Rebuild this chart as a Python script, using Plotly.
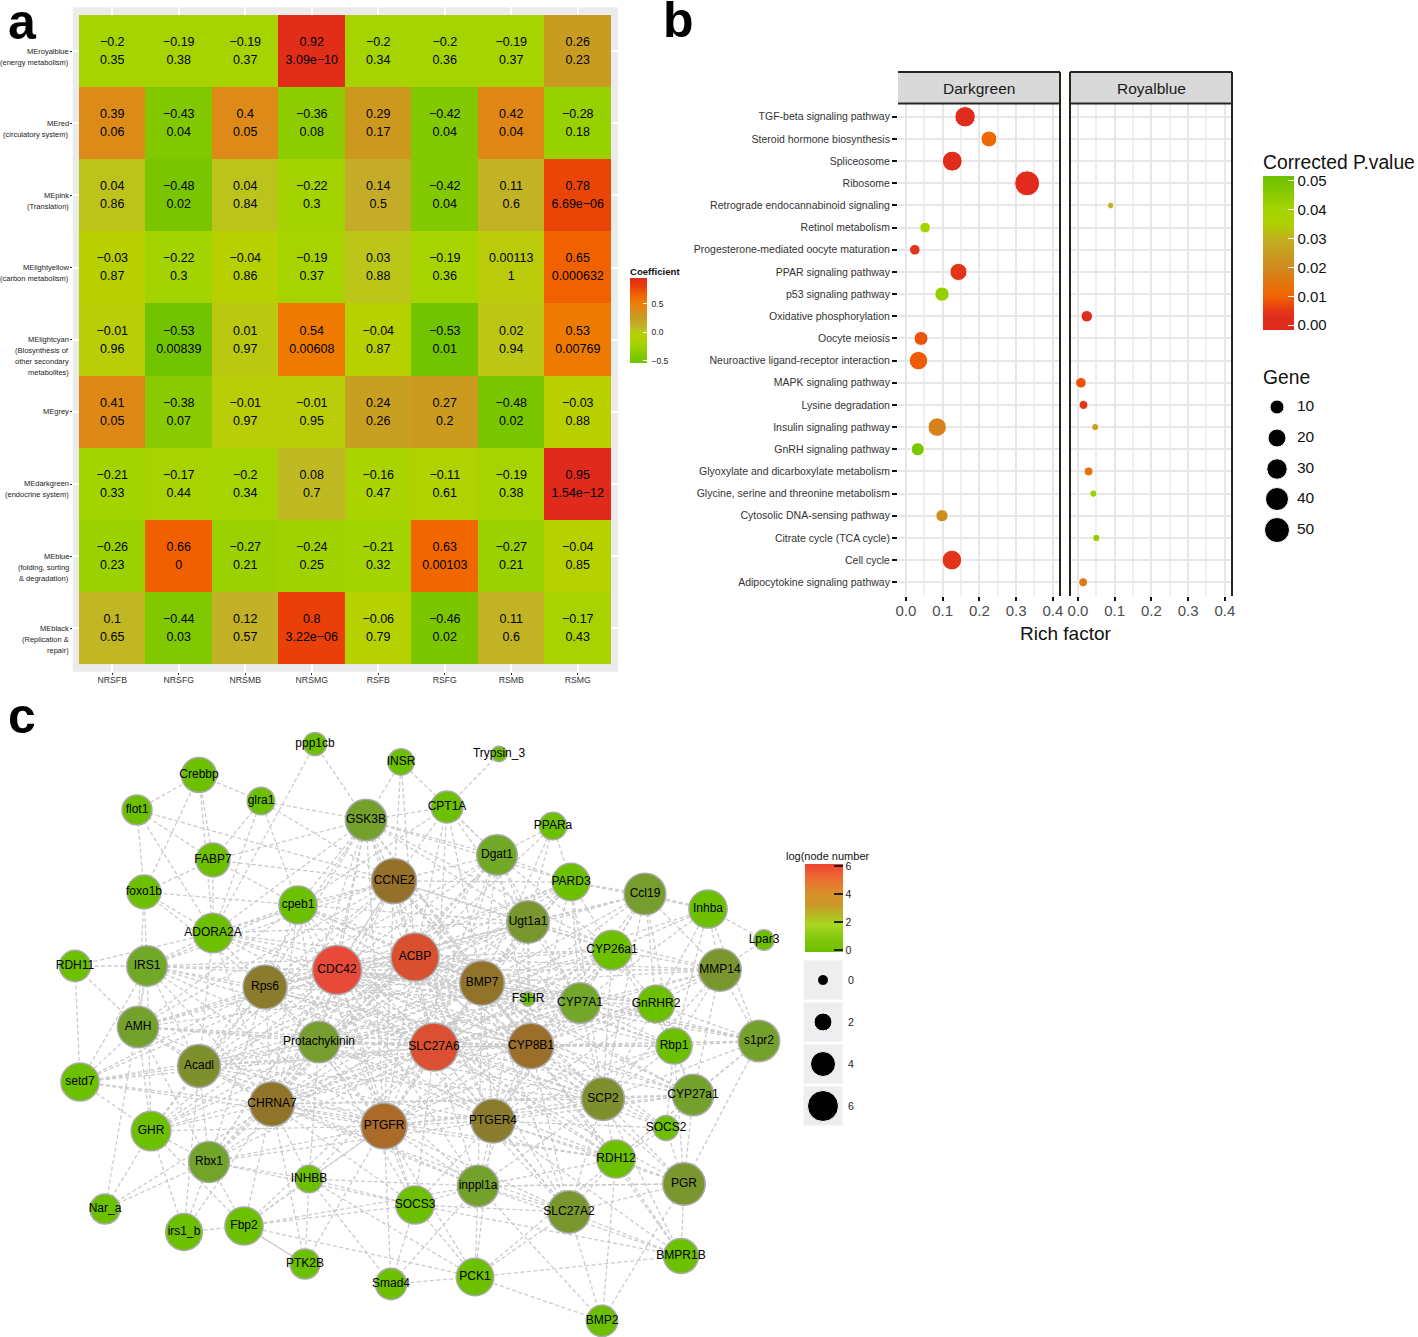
import numpy as np
import plotly.graph_objects as go

W, H = 1418, 1337
FONT = "Liberation Sans"

# ----- panel a: module / trait correlations
modules = ["MEroyalblue\n(energy metabolism)", "MEred\n(circulatory system)", "MEpink\n(Translation)",
           "MElightyellow\n(carbon metabolism)",
           "MElightcyan\n(Blosynthesis of\nother secondary\nmetabolites)", "MEgrey",
           "MEdarkgreen\n(endocrine system)", "MEblue\n(folding, sorting\n& degradation)",
           "MEblack\n(Replication &\nrepair)"]
traits = ["NRSFB", "NRSFG", "NRSMB", "NRSMG", "RSFB", "RSFG", "RSMB", "RSMG"]
coef = [[-0.2, -0.19, -0.19, 0.92, -0.2, -0.2, -0.19, 0.26],
        [0.39, -0.43, 0.4, -0.36, 0.29, -0.42, 0.42, -0.28],
        [0.04, -0.48, 0.04, -0.22, 0.14, -0.42, 0.11, 0.78],
        [-0.03, -0.22, -0.04, -0.19, 0.03, -0.19, 0.00113, 0.65],
        [-0.01, -0.53, 0.01, 0.54, -0.04, -0.53, 0.02, 0.53],
        [0.41, -0.38, -0.01, -0.01, 0.24, 0.27, -0.48, -0.03],
        [-0.21, -0.17, -0.2, 0.08, -0.16, -0.11, -0.19, 0.95],
        [-0.26, 0.66, -0.27, -0.24, -0.21, 0.63, -0.27, -0.04],
        [0.1, -0.44, 0.12, 0.8, -0.06, -0.46, 0.11, -0.17]]
pvals = [["0.35", "0.38", "0.37", "3.09e−10", "0.34", "0.36", "0.37", "0.23"],
         ["0.06", "0.04", "0.05", "0.08", "0.17", "0.04", "0.04", "0.18"],
         ["0.86", "0.02", "0.84", "0.3", "0.5", "0.04", "0.6", "6.69e−06"],
         ["0.87", "0.3", "0.86", "0.37", "0.88", "0.36", "1", "0.000632"],
         ["0.96", "0.00839", "0.97", "0.00608", "0.87", "0.01", "0.94", "0.00769"],
         ["0.05", "0.07", "0.97", "0.95", "0.26", "0.2", "0.02", "0.88"],
         ["0.33", "0.44", "0.34", "0.7", "0.47", "0.61", "0.38", "1.54e−12"],
         ["0.23", "0", "0.21", "0.25", "0.32", "0.00103", "0.21", "0.85"],
         ["0.65", "0.03", "0.57", "3.22e−06", "0.79", "0.02", "0.6", "0.43"]]

# ----- panel b: enrichment dots
pathways = ["TGF-beta signaling pathway", "Steroid hormone biosynthesis", "Spliceosome", "Ribosome",
            "Retrograde endocannabinoid signaling", "Retinol metabolism",
            "Progesterone-mediated oocyte maturation", "PPAR signaling pathway", "p53 signaling pathway",
            "Oxidative phosphorylation", "Oocyte meiosis", "Neuroactive ligand-receptor interaction",
            "MAPK signaling pathway", "Lysine degradation", "Insulin signaling pathway",
            "GnRH signaling pathway", "Glyoxylate and dicarboxylate metabolism",
            "Glycine, serine and threonine metabolism", "Cytosolic DNA-sensing pathway",
            "Citrate cycle (TCA cycle)", "Cell cycle", "Adipocytokine signaling pathway"]
dark_path = ["TGF-beta signaling pathway", "Steroid hormone biosynthesis", "Spliceosome", "Ribosome",
             "Retinol metabolism", "Progesterone-mediated oocyte maturation", "PPAR signaling pathway",
             "p53 signaling pathway", "Oocyte meiosis", "Neuroactive ligand-receptor interaction",
             "Insulin signaling pathway", "GnRH signaling pathway", "Cytosolic DNA-sensing pathway",
             "Cell cycle"]
dark_rich = [0.161, 0.226, 0.126, 0.330, 0.052, 0.024, 0.143, 0.098, 0.041, 0.034, 0.085, 0.032, 0.098, 0.125]
dark_gene = [30, 15, 28, 53, 6, 6, 18, 11, 10, 22, 22, 9, 8, 27]
dark_p = [0.002, 0.011, 0.003, 0.001, 0.04, 0.004, 0.004, 0.043, 0.008, 0.009, 0.018, 0.048, 0.021, 0.004]
royal_path = ["Retrograde endocannabinoid signaling", "Oxidative phosphorylation", "MAPK signaling pathway",
              "Lysine degradation", "Insulin signaling pathway", "Glyoxylate and dicarboxylate metabolism",
              "Glycine, serine and threonine metabolism", "Citrate cycle (TCA cycle)",
              "Adipocytokine signaling pathway"]
royal_rich = [0.089, 0.024, 0.008, 0.015, 0.047, 0.029, 0.042, 0.05, 0.014]
royal_gene = [1, 7, 6, 4, 2, 4, 2, 2, 4]
royal_p = [0.03, 0.003, 0.008, 0.004, 0.026, 0.014, 0.042, 0.044, 0.016]
gene_legend = [10, 20, 30, 40, 50]
rich_ticks = [0.0, 0.1, 0.2, 0.3, 0.4]

# ----- panel c: network, node layout
node_name = ["ppp1cb", "INSR", "Crebbp", "flot1", "glra1", "GSK3B", "CPT1A", "FABP7", "foxo1b", "cpeb1",
             "CCNE2", "ADORA2A", "RDH11", "IRS1", "Rps6", "CDC42", "ACBP", "AMH", "Trypsin_3", "PPARa",
             "Dgat1", "PARD3", "Ccl19", "Inhba", "Ugt1a1", "Lpar3", "CYP26a1", "MMP14", "BMP7", "FSHR",
             "CYP7A1", "GnRHR2", "Protachykinin", "SLC27A6", "Acadl", "setd7", "CHRNA7", "PTGFR", "GHR",
             "Rbx1", "INHBB", "Nar_a", "SOCS3", "irs1_b", "Fbp2", "PTK2B", "Smad4", "CYP8B1", "Rbp1",
             "s1pr2", "SCP2", "CYP27a1", "PTGER4", "SOCS2", "RDH12", "PGR", "inppl1a", "SLC27A2", "BMPR1B",
             "PCK1", "BMP2"]
node_x = [315, 401, 199, 137, 261, 366, 447, 213, 144, 298,
          394, 213, 75, 147, 265, 337, 415, 138, 499, 553,
          497, 571, 645, 708, 528, 764, 612, 720, 482, 528,
          580, 656, 319, 434, 199, 80, 272, 384, 151,
          209, 309, 105, 415, 184, 244, 305, 391, 531, 674,
          759, 603, 693, 493, 666, 616, 684, 478, 569, 681,
          475, 602]
node_y = [744, 762, 775, 810, 801, 820, 807, 860, 892, 905,
          881, 933, 966, 966, 987, 970, 957, 1027, 754, 826,
          855, 882, 894, 909, 922, 940, 950, 970, 983, 999,
          1003, 1004, 1042, 1047, 1066, 1082, 1104, 1126, 1131,
          1162, 1179, 1209, 1205, 1232, 1226, 1264, 1284, 1046, 1046,
          1041, 1099, 1095, 1121, 1128, 1159, 1184, 1186, 1212, 1256,
          1277, 1321]
node_value = [0.47, 0.6, 0.95, 0.75, 0.65, 2.0, 0.83, 0.9, 0.9, 1.4,
              3.0, 1.6, 0.8, 1.8, 2.7, 5.4, 4.8, 2.0, 0.15, 0.65,
              1.8, 1.3, 2.1, 1.4, 2.3, 0.35, 1.6, 2.3, 2.9, 0.1,
              1.85, 1.3, 2.1, 4.9, 2.4, 1.4, 2.9, 3.6, 1.6,
              1.9, 0.65, 0.75, 1.4, 1.2, 1.4, 0.75, 0.8, 3.2, 1.1,
              2.0, 2.4, 2.0, 2.7, 0.55, 1.4, 2.3, 2.0, 2.3, 0.95,
              1.3, 0.8]
node_edges = {
    "ppp1cb": "GSK3B ADORA2A",
    "INSR": "GSK3B CCNE2 ACBP Dgat1",
    "Crebbp": "flot1 glra1 FABP7 foxo1b ADORA2A",
    "flot1": "FABP7 ADORA2A CCNE2 foxo1b",
    "glra1": "FABP7 ADORA2A cpeb1 CCNE2 GSK3B",
    "FABP7": "ADORA2A CCNE2 GSK3B cpeb1 foxo1b",
    "foxo1b": "IRS1 ADORA2A cpeb1 AMH Rps6",
    "RDH11": "IRS1 AMH ADORA2A setd7",
    "Trypsin_3": "CPT1A",
    "CPT1A": "GSK3B Dgat1 CCNE2 ACBP Ugt1a1 BMP7 SLC27A6 cpeb1",
    "PPARa": "Dgat1 Ugt1a1 PARD3 BMP7 ACBP",
    "Lpar3": "Inhba MMP14",
    "Inhba": "Ccl19 MMP14 CYP26a1 GnRHR2 CYP7A1 PARD3 BMP7 s1pr2 Rbp1",
    "Ccl19": "PARD3 CYP26a1 Ugt1a1 CYP7A1 ACBP BMP7 GnRHR2 Rbp1 MMP14 SLC27A6 CDC42 CYP8B1 SCP2",
    "setd7": "AMH Acadl GHR IRS1 Rps6 CHRNA7 Protachykinin CDC42 SLC27A6 PTGFR",
    "Nar_a": "GHR Rbx1 IRS1 CHRNA7",
    "irs1_b": "GHR Rbx1 Fbp2 CHRNA7 Acadl",
    "Fbp2": "Rbx1 GHR INHBB SOCS3 PTK2B inppl1a PCK1 CHRNA7 SLC27A6 PTGFR",
    "PTK2B": "INHBB PTGFR CHRNA7 Fbp2",
    "Smad4": "SOCS3 PCK1 INHBB PTGFR inppl1a",
    "PCK1": "inppl1a SLC27A2 BMPR1B SOCS3 PTGFR INHBB PTGER4 RDH12",
    "BMP2": "SLC27A2 PGR inppl1a RDH12 PCK1",
    "BMPR1B": "PGR RDH12 SLC27A2 PTGER4 SOCS3 CYP8B1 inppl1a SCP2",
    "PGR": "SOCS2 CYP27a1 s1pr2 RDH12 SLC27A2 inppl1a SCP2 CYP8B1 SLC27A6 PTGER4 Rbp1",
    "s1pr2": "Rbp1 CYP27a1 MMP14 RDH12 GnRHR2 SCP2 CYP8B1 CYP7A1 SLC27A6 BMP7 CDC42 ACBP",
    "MMP14": "GnRHR2 CYP26a1 Rbp1 CYP27a1 CYP7A1 BMP7 CYP8B1 SCP2 ACBP SLC27A6 CDC42 Ugt1a1",
    "GHR": "Rbx1 AMH Acadl IRS1 CHRNA7 Rps6 CDC42 Protachykinin SLC27A6 PTGFR ACBP BMP7",
    "INHBB": "Rbx1 CHRNA7 PTGFR SOCS3 Protachykinin SLC27A6 inppl1a",
    "SOCS2": "RDH12 CYP27a1 SCP2 CYP8B1 Rbp1 SLC27A6 PTGER4 BMP7",
    "SOCS3": "Rbx1 PTGFR inppl1a SLC27A2 SLC27A6 PTGER4 CHRNA7 Protachykinin CDC42",
    "inppl1a": "SLC27A2 RDH12 PGR PTGFR PTGER4 SLC27A6 CHRNA7 SCP2 CYP8B1 CDC42 Acadl Protachykinin BMP7",
    "SLC27A2": "RDH12 PTGER4 SCP2 CYP8B1 PTGFR SLC27A6 CDC42 BMP7 ACBP CHRNA7",
    "RDH12": "SCP2 CYP27a1 PTGER4 CYP8B1 SLC27A6 PTGFR BMP7 CDC42 ACBP CHRNA7 Protachykinin",
    "Rbx1": "CHRNA7 Acadl AMH Rps6 PTGFR CDC42 Protachykinin SLC27A6 ACBP BMP7 CCNE2 PTGER4",
    "AMH": "IRS1 Acadl Rps6 CHRNA7 Protachykinin CDC42 SLC27A6 ACBP CCNE2 cpeb1 BMP7 CYP8B1 PTGFR",
    "IRS1": "ADORA2A Rps6 cpeb1 CDC42 Acadl Protachykinin ACBP SLC27A6 CCNE2 BMP7 CYP8B1 PTGFR CHRNA7",
    "ADORA2A": "cpeb1 Rps6 CDC42 CCNE2 GSK3B ACBP Protachykinin SLC27A6 BMP7 CYP8B1 Acadl CHRNA7 Ugt1a1",
    "cpeb1": "GSK3B CCNE2 Rps6 CDC42 ACBP Protachykinin BMP7 Ugt1a1 SLC27A6 CYP8B1 CHRNA7 PTGFR CYP7A1",
    "GSK3B": "CCNE2 CDC42 ACBP Dgat1 Ugt1a1 PARD3 BMP7 Rps6 SLC27A6 Protachykinin CYP26a1 CYP8B1 CHRNA7 Acadl PTGFR",
    "Dgat1": "CCNE2 PARD3 Ugt1a1 ACBP CDC42 BMP7 SLC27A6 CYP7A1 CYP26a1 Rps6 CYP8B1 Protachykinin CHRNA7 PTGFR",
    "PARD3": "Ugt1a1 CYP26a1 ACBP BMP7 CCNE2 CDC42 CYP7A1 CYP8B1 SLC27A6 Rps6 Protachykinin SCP2",
    "Ugt1a1": "CCNE2 ACBP CDC42 BMP7 SLC27A6 CYP26a1 CYP7A1 FSHR CYP8B1 Protachykinin PTGER4 Rps6 CHRNA7 PTGFR Acadl",
    "CYP26a1": "ACBP BMP7 CYP7A1 GnRHR2 CYP8B1 SLC27A6 Rbp1 SCP2 CDC42 FSHR PTGER4 CCNE2 CHRNA7 PTGFR Protachykinin",
    "CYP7A1": "BMP7 GnRHR2 CYP8B1 SLC27A6 Rbp1 ACBP SCP2 PTGER4 CDC42 CCNE2 CHRNA7 PTGFR Protachykinin Rps6 Acadl",
    "GnRHR2": "Rbp1 CYP8B1 SCP2 SLC27A6 BMP7 ACBP CYP27a1 PTGER4 CDC42 PTGFR CHRNA7",
    "Rbp1": "CYP8B1 SCP2 CYP27a1 SLC27A6 BMP7 PTGER4 ACBP CDC42 PTGFR Protachykinin",
    "CYP27a1": "SCP2 CYP8B1 SLC27A6 PTGER4 BMP7 ACBP CDC42 PTGFR CHRNA7",
    "SCP2": "CYP8B1 PTGER4 SLC27A6 BMP7 ACBP PTGFR CDC42 CHRNA7 Protachykinin CCNE2 Rps6 Acadl",
    "PTGER4": "CYP8B1 SLC27A6 PTGFR BMP7 ACBP CHRNA7 Protachykinin CDC42 CCNE2 Rps6 Acadl",
    "PTGFR": "CHRNA7 SLC27A6 Protachykinin CDC42 ACBP BMP7 CYP8B1 Rps6 Acadl CCNE2",
    "CHRNA7": "Acadl Protachykinin Rps6 CDC42 ACBP SLC27A6 BMP7 CYP8B1 CCNE2",
    "Acadl": "Rps6 Protachykinin CDC42 ACBP SLC27A6 BMP7 CCNE2 CYP8B1",
    "Protachykinin": "Rps6 CDC42 ACBP SLC27A6 BMP7 CYP8B1 CCNE2 FSHR",
    "Rps6": "CDC42 ACBP SLC27A6 CCNE2 BMP7 CYP8B1",
    "CDC42": "ACBP SLC27A6 CCNE2 BMP7 CYP8B1 FSHR",
    "ACBP": "SLC27A6 CCNE2 BMP7 CYP8B1 FSHR",
    "SLC27A6": "CCNE2 BMP7 CYP8B1 FSHR",
    "CCNE2": "BMP7 CYP8B1",
    "BMP7": "CYP8B1",
}
size_legend = [0, 2, 4, 6]


def cscale(stops, lo, hi):
    return [[(v - lo) / (hi - lo), c] for v, c in stops]


def gene_size(g):
    return np.interp(g, [1, 10, 20, 30, 40, 50], [6.5, 14, 18, 20.5, 23, 25])


coef_scale = cscale([(-0.54, "#70c200"), (-0.36, "#8ccc00"), (-0.2, "#a6d400"), (-0.03, "#b8d000"),
                     (0.04, "#bcc41c"), (0.14, "#c4ac28"), (0.26, "#c89c20"), (0.4, "#dd8a18"),
                     (0.54, "#ee7a00"), (0.66, "#f06000"), (0.8, "#e84008"), (0.95, "#e02a1c")], -0.54, 0.95)
p_scale = cscale([(-0.0017, "#e02a1e"), (0.003, "#e02c1c"), (0.006, "#e84010"), (0.01, "#f06400"),
                  (0.02, "#d08a20"), (0.03, "#c0b020"), (0.035, "#b0d000"), (0.04, "#a4d400"),
                  (0.0517, "#6cc000")], -0.0017, 0.0517)
node_scale = cscale([(0, "#6cc000"), (1.6, "#6cc000"), (1.8, "#72a828"), (2.0, "#74a02c"), (2.3, "#7a962e"),
                     (2.7, "#8a7c2c"), (3.0, "#947028"), (3.6, "#aa6a2a"), (4.8, "#d85030"),
                     (5.4, "#e84a3a"), (6, "#f04030")], 0, 6)
node_legend_scale = cscale([(-0.14, "#6cc000"), (1, "#88c810"), (1.8, "#a8d820"), (2.3, "#b0c020"),
                            (3.2, "#c89a28"), (4, "#d89028"), (5, "#ea7030"), (6.14, "#f04432")], -0.14, 6.14)

fig = go.Figure()

# network edges first so the nodes sit on top
pos = {n: (x, y) for n, x, y in zip(node_name, node_x, node_y)}
edge_x, edge_y = [], []
for src, targets in node_edges.items():
    for dst in targets.split():
        edge_x += [pos[src][0], pos[dst][0], None]
        edge_y += [pos[src][1], pos[dst][1], None]
fig.add_trace(go.Scatter(x=edge_x, y=edge_y, mode="lines", hoverinfo="skip",
                         line=dict(color="#cbcbcb", width=1.3, dash="4px,2.5px")))
fig.add_trace(go.Scatter(x=node_x, y=node_y, mode="markers+text", text=node_name, textposition="middle center",
                         textfont=dict(family=FONT, size=12, color="black"),
                         marker=dict(color=node_value, coloraxis="coloraxis3", opacity=1,
                                     size=np.interp(node_value, [0, 0.55, 0.95, 1.65, 3, 5.4], [12, 25, 35, 40, 45, 49]),
                                     line=dict(color="#aaaaaa", width=1.5))))

# size legend of the network, gray keys with black dots
fig.add_trace(go.Scatter(x=[823] * 4, y=[980, 1022, 1064, 1106], mode="markers", hoverinfo="skip",
                         marker=dict(symbol="square", size=39, color="#eeeef0", opacity=1)))
fig.add_trace(go.Scatter(x=[823] * 4, y=[980, 1022, 1064, 1106], mode="markers",
                         marker=dict(color="black", opacity=1, size=np.interp(size_legend, [0, 2, 4, 6], [11, 18, 25, 31]))))
fig.add_trace(go.Scatter(x=[848] * 4, y=[981, 1023, 1065, 1107], mode="text", text=[str(s) for s in size_legend],
                         textposition="middle right", textfont=dict(family=FONT, size=10.5, color="#222222")))
# only there to carry the colour bar of the network
fig.add_trace(go.Scatter(x=[None, None], y=[None, None], mode="markers", hoverinfo="skip",
                         marker=dict(color=[0, 6], coloraxis="coloraxis4")))

# gene size legend of panel b
fig.add_trace(go.Scatter(x=[1277] * 5, y=[407, 438, 469, 499, 530], mode="markers",
                         marker=dict(color="black", opacity=1, size=gene_size(gene_legend))))
fig.add_trace(go.Scatter(x=[1297] * 5, y=[407, 438, 469, 499, 530], mode="text", text=[str(g) for g in gene_legend],
                         textposition="middle right", textfont=dict(family=FONT, size=15.5, color="#111111")))

# panel a
fig.add_trace(go.Heatmap(x=list(range(8)), y=list(range(9)), z=coef, coloraxis="coloraxis", xaxis="x2", yaxis="y2",
                         xgap=0, ygap=0, hoverinfo="z"))
cell_x = [j for i in range(9) for j in range(8)]
cell_y = [i for i in range(9) for j in range(8)]
coef_text = [str(v).replace("-", "−") for row in coef for v in row]
p_text = [v for row in pvals for v in row]
fig.add_trace(go.Scatter(x=cell_x, y=[i - 0.115 for i in cell_y], mode="text", text=coef_text, xaxis="x2", yaxis="y2",
                         textposition="middle center", textfont=dict(family=FONT, size=12.5, color="black")))
fig.add_trace(go.Scatter(x=cell_x, y=[i + 0.135 for i in cell_y], mode="text", text=p_text, xaxis="x2", yaxis="y2",
                         textposition="middle center", textfont=dict(family=FONT, size=12.5, color="black")))

# panel b
fig.add_trace(go.Scatter(x=dark_rich, y=dark_path, mode="markers", xaxis="x3", yaxis="y3",
                         marker=dict(color=dark_p, coloraxis="coloraxis2", opacity=1, size=gene_size(dark_gene))))
fig.add_trace(go.Scatter(x=royal_rich, y=royal_path, mode="markers", xaxis="x4", yaxis="y4",
                         marker=dict(color=royal_p, coloraxis="coloraxis2", opacity=1, size=gene_size(royal_gene))))

# text that sits on the page coordinates of the overlay axes
notes = [("a", 22, 22, 50, "black", "center", True), ("b", 678, 20, 50, "black", "center", True),
         ("c", 22, 716, 50, "black", "center", True),
         ("Darkgreen", 979, 88, 15.5, "#1a1a1a", "center", False), ("Royalblue", 1151, 88, 15.5, "#1a1a1a", "center", False),
         ("Rich factor", 1065, 633, 19, "#111111", "center", False),
         ("Corrected P.value", 1261, 162, 19.3, "#111111", "left", False), ("Gene", 1261, 377, 19.3, "#111111", "left", False),
         ("Coefficient", 628, 271, 9.6, "#111111", "left", True),
         ("log(node number", 784, 856, 11, "#111111", "left", False)]
annotations = [dict(text=f"<b>{t}</b>" if bold else t, x=x, y=y, xref="x", yref="y", xanchor=anc, yanchor="middle",
                    showarrow=False, font=dict(family=FONT, size=size, color=col))
               for t, x, y, size, col, anc, bold in notes]
# module labels: the tick sits at the first line, the rest hangs below
for i, lab in enumerate(modules):
    for k, line in enumerate(lab.split("\n")):
        annotations.append(dict(text=line, x=71, y=51.3 + i * 72.1 + k * 11, xref="x", yref="y", xanchor="right",
                                yanchor="middle", showarrow=False, font=dict(family=FONT, size=7.5, color="#222222")))

shapes = [
    dict(type="rect", xref="x", yref="y", x0=72.8, x1=618, y0=7.3, y1=671.7, fillcolor="#ebebeb", line_width=0, layer="below"),
    dict(type="rect", xref="x", yref="y", x0=898, x1=1060, y0=72, y1=103.5, fillcolor="#d9d9d9", line_width=0, layer="below"),
    dict(type="rect", xref="x", yref="y", x0=1070, x1=1232, y0=72, y1=103.5, fillcolor="#d9d9d9", line_width=0, layer="below"),
]
for x0, y0, x1, y1 in [(898, 72, 1060, 72), (898, 103.5, 1060, 103.5), (1060, 72, 1060, 596),
                       (1070, 72, 1232, 72), (1070, 103.5, 1232, 103.5), (1070, 72, 1070, 596), (1232, 72, 1232, 596)]:
    shapes.append(dict(type="line", xref="x", yref="y", x0=x0, x1=x1, y0=y0, y1=y1, layer="above",
                       line=dict(color="#26261e", width=2)))

fig.update_layout(
    width=W, height=H, margin=dict(l=0, r=0, t=0, b=0, autoexpand=False), autosize=False, showlegend=False,
    paper_bgcolor="white", plot_bgcolor="rgba(0,0,0,0)", annotations=annotations, shapes=shapes,
    xaxis=dict(domain=[0, 1], range=[0, W], visible=False),
    yaxis=dict(domain=[0, 1], range=[H, 0], visible=False),
    xaxis2=dict(domain=[72.8 / W, 618 / W], range=[-0.593, 7.605], tickvals=list(range(8)), ticktext=traits, anchor="y2",
                ticks="outside", ticklen=2, tickcolor="#333333", showgrid=True, gridcolor="white", gridwidth=1.5, zeroline=False,
                ticklabelstandoff=-2, tickfont=dict(family=FONT, size=8.7, color="#333333")),
    yaxis2=dict(domain=[1 - 671.7 / H, 1 - 7.3 / H], range=[8.6, -0.607], tickvals=list(range(9)), ticktext=[""] * 9, anchor="x2",
                ticks="outside", ticklen=2, tickcolor="#333333", showgrid=True, gridcolor="white", gridwidth=1.5, zeroline=False),
    xaxis3=dict(domain=[898 / W, 1060 / W], range=[-0.0218, 0.4196], tickvals=rich_ticks, tickformat=".1f", anchor="y3",
                minor=dict(dtick=0.05, showgrid=True, gridcolor="#f0eef2", gridwidth=1.5), zeroline=False,
                ticks="outside", ticklen=4, tickwidth=1.5, tickcolor="#111111", showgrid=True, gridcolor="#e8e6ea", gridwidth=1.5,
                ticklabelstandoff=-3, tickfont=dict(family=FONT, size=15, color="#4d4d4d")),
    yaxis3=dict(domain=[1 - 596 / H, 1 - 103.5 / H], type="category", categoryorder="array", categoryarray=pathways,
                range=[21.62, -0.6], anchor="x3", ticks="outside", ticklen=5, tickwidth=2, tickcolor="#111111",
                showgrid=True, gridcolor="#e8e6ea", gridwidth=1.5, zeroline=False, tickmode="array", tickvals=pathways,
                tickfont=dict(family=FONT, size=10.5, color="#333333")),
    xaxis4=dict(domain=[1070 / W, 1232 / W], range=[-0.0217, 0.4196], tickvals=rich_ticks, tickformat=".1f", anchor="y4",
                minor=dict(dtick=0.05, showgrid=True, gridcolor="#f0eef2", gridwidth=1.5), zeroline=False,
                ticks="outside", ticklen=4, tickwidth=1.5, tickcolor="#111111", showgrid=True, gridcolor="#e8e6ea", gridwidth=1.5,
                ticklabelstandoff=-3, tickfont=dict(family=FONT, size=15, color="#4d4d4d")),
    yaxis4=dict(domain=[1 - 596 / H, 1 - 103.5 / H], type="category", categoryorder="array", categoryarray=pathways,
                range=[21.62, -0.6], anchor="x4", showticklabels=False, tickmode="array", tickvals=pathways,
                showgrid=True, gridcolor="#e8e6ea", gridwidth=1.5, zeroline=False),
    coloraxis=dict(colorscale=coef_scale, cmin=-0.54, cmax=0.95, colorbar=dict(
        x=630 / W, xanchor="left", xpad=0, y=1 - 278 / H, yanchor="top", ypad=0, len=85, lenmode="pixels",
        thickness=17, thicknessmode="pixels", outlinewidth=0, ticks="inside", ticklen=4, tickcolor="white",
        tickvals=[-0.5, 0, 0.5], ticktext=["\u00a0−0.5", "\u00a00.0", "\u00a00.5"], tickfont=dict(family=FONT, size=8.5, color="#222222"))),
    coloraxis2=dict(colorscale=p_scale, cmin=-0.0017, cmax=0.0517, colorbar=dict(
        x=1263 / W, xanchor="left", xpad=0, y=1 - 176 / H, yanchor="top", ypad=0, len=154, lenmode="pixels",
        thickness=31, thicknessmode="pixels", outlinewidth=0, ticks="inside", ticklen=6, tickcolor="white", tickprefix="\u00a0\u00a0",
        tickvals=[0, 0.01, 0.02, 0.03, 0.04, 0.05], tickformat=".2f", tickfont=dict(family=FONT, size=15, color="#111111"))),
    coloraxis3=dict(colorscale=node_scale, cmin=0, cmax=6, showscale=False),
    coloraxis4=dict(colorscale=node_legend_scale, cmin=-0.14, cmax=6.14, colorbar=dict(
        x=805 / W, xanchor="left", xpad=0, y=1 - 864 / H, yanchor="top", ypad=0, len=88, lenmode="pixels",
        thickness=38, thicknessmode="pixels", outlinewidth=0, ticks="inside", ticklen=9, tickcolor="#222222", tickwidth=1.5,
        tickprefix="\u00a0\u00a0", tickvals=[0, 2, 4, 6], tickfont=dict(family=FONT, size=10.5, color="#222222"))),
)

fig.write_html("out.html", config={"displayModeBar": False}, post_script="document.body.style.margin='0';")
